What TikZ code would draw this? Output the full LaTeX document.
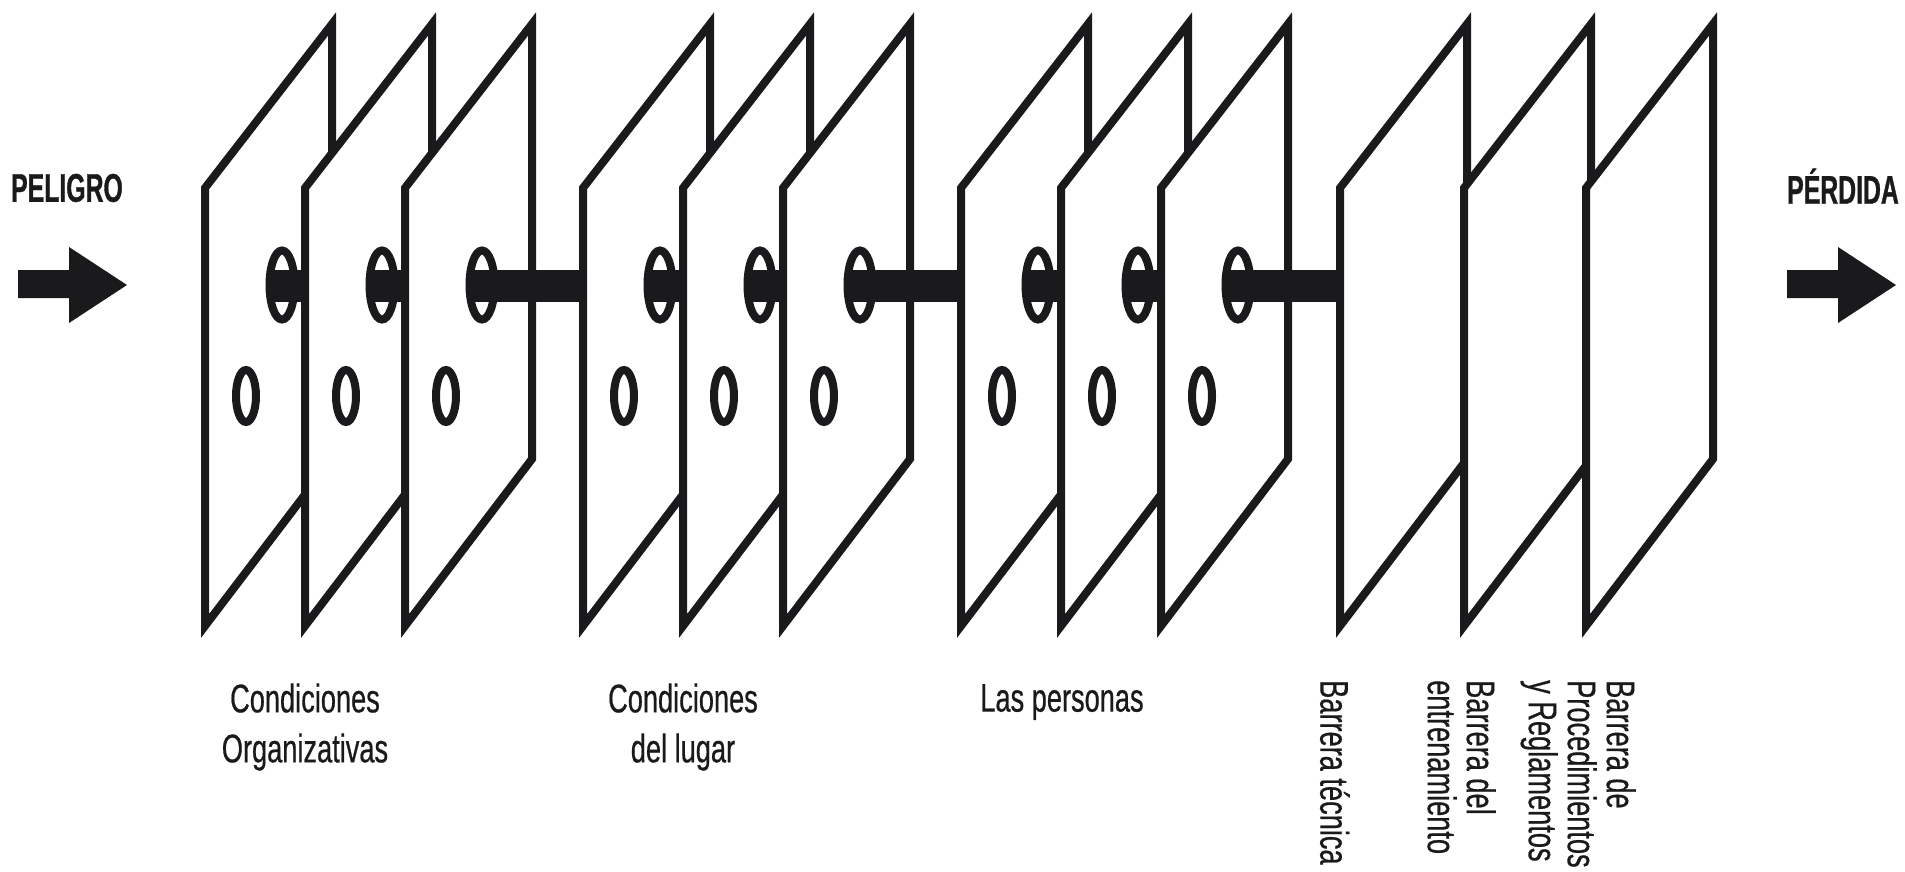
\documentclass[tikz,border=0pt]{standalone}
\usepackage{fontspec}
\setmainfont[FakeStretch=0.68,FakeBold=0.5]{Liberation Sans}
\newfontfamily\titlefont[FakeStretch=0.62,FakeBold=0.8]{Liberation Sans}
\definecolor{ink}{HTML}{1A1A1C}
\tikzset{
    plane/.style = {draw=ink, fill=white, line width=8pt, miter limit=10},
    hole/.style  = {draw=ink, fill=white, line width=8pt},
    tag/.style   = {text=ink, font=\fontsize{40}{50}\selectfont, inner sep=0pt, align=center},
    vtag/.style  = {tag, font=\fontsize{40}{39}\selectfont, rotate=-90, anchor=north west, align=left},
    title/.style = {text=ink, font=\titlefont\fontsize{40}{44}\selectfont\bfseries, inner sep=0pt}
}
\begin{document}
\begin{tikzpicture}[x=1pt,y=-1pt]
    \useasboundingbox (0,0) rectangle (1905,872);
    % arrows
    \foreach \x/\name in {0/left, 1769/right} {
        \fill[ink] (\x+18,270) -- (\x+69,270) -- (\x+69,247) -- (\x+127,285)
            -- (\x+69,323) -- (\x+69,298) -- (\x+18,298) -- cycle;
    }
    \node[title] (peligro) at (67,188) {PELIGRO};
    \node[title] (perdida) at (1843,186) {PÉRDIDA};
    % panels with holes, each bar runs on to the next panel
    \foreach \x/\nx in {205/305, 305/405, 405/583, 583/683, 683/783, 783/961, 961/1061, 1061/1161, 1161/1340} {
        \draw[plane] (\x,188) -- (\x+127,24) -- (\x+127,459) -- (\x,626) -- cycle;
        \draw[hole] (\x+77,285) ellipse (12.5pt and 34.5pt);
        \draw[hole] (\x+41,396) ellipse (10pt and 26pt);
        \fill[ink] (\x+66,270) rectangle (\nx,302);
    }
    \foreach \x in {1340, 1464, 1586} {
        \draw[plane] (\x,188) -- (\x+127,24) -- (\x+127,459) -- (\x,626) -- cycle;
    }
    % labels
    \node[tag] (orga) at (305,727) {Condiciones\\Organizativas};
    \node[tag] (lugar) at (683,727) {Condiciones\\del lugar};
    \node[tag] (gente) at (1062,702) {Las personas};
    \node[vtag] (tecnica) at (1350,680) {Barrera técnica};
    \node[vtag] (entrena) at (1496,680) {Barrera del\\entrenamiento};
    \node[vtag] (proced) at (1636,680) {Barrera de\\Procedimientos\\y Reglamentos};
\end{tikzpicture}
\end{document}
